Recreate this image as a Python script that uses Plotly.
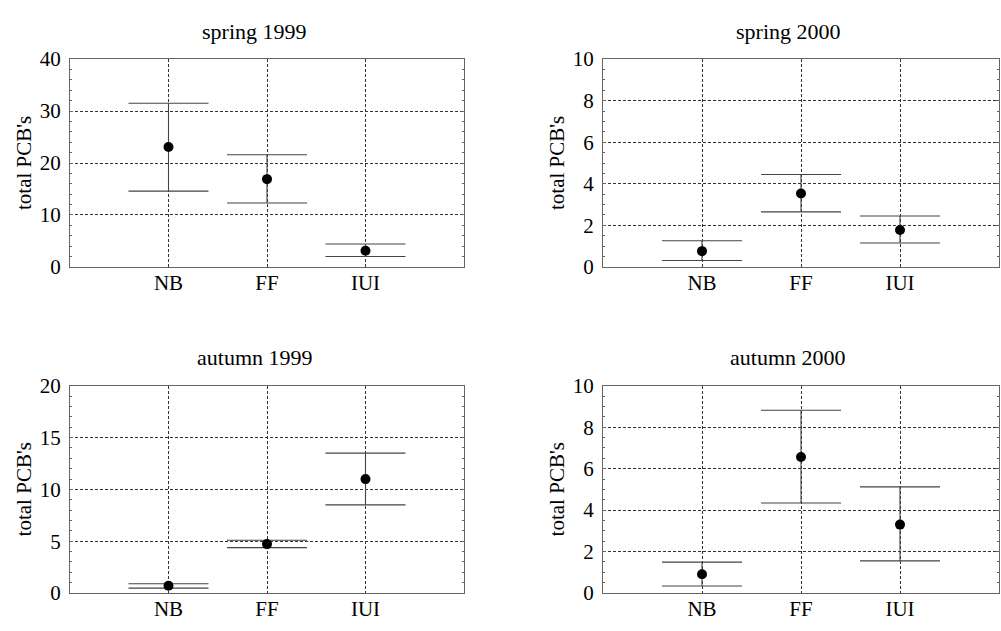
import plotly.graph_objects as go

categories = ["NB", "FF", "IUI"]
panel_titles = ["spring 1999", "spring 2000", "autumn 1999", "autumn 2000"]
y_max = [40, 10, 20, 10]
y_dtick = [10, 2, 5, 2]
y_minor = [2, 0.5, 1, 0.5]

spring1999_mean = [23.1, 16.9, 3.1]
spring1999_upper = [31.5, 21.6, 4.4]
spring1999_lower = [14.6, 12.3, 2.0]

spring2000_mean = [0.76, 3.53, 1.78]
spring2000_upper = [1.26, 4.45, 2.45]
spring2000_lower = [0.31, 2.65, 1.15]

autumn1999_mean = [0.71, 4.72, 10.99]
autumn1999_upper = [0.90, 5.09, 13.5]
autumn1999_lower = [0.47, 4.38, 8.5]

autumn2000_mean = [0.91, 6.56, 3.30]
autumn2000_upper = [1.49, 8.82, 5.12]
autumn2000_lower = [0.34, 4.34, 1.55]

means = [spring1999_mean, spring2000_mean, autumn1999_mean, autumn2000_mean]
uppers = [spring1999_upper, spring2000_upper, autumn1999_upper, autumn2000_upper]
lowers = [spring1999_lower, spring2000_lower, autumn1999_lower, autumn2000_lower]

W, H = 1001, 631
FONT = "Liberation Serif, Times New Roman, serif"

# pixel boxes (left, right, top, bottom)
boxes = [(70, 464, 49, 265), (603, 999, 49, 265), (70, 464, 388.5, 604), (603, 999, 388.5, 604)]
title_pos = [(254, 20), (788, 20), (255, 359), (788, 359)]
ytitle_x = [24, 557]

fig = go.Figure()
annotations = []
xpos = [1, 2, 3]
for i in range(4):
    xa = "x" if i == 0 else f"x{i+1}"
    ya = "y" if i == 0 else f"y{i+1}"
    m, u, lo = means[i], uppers[i], lowers[i]
    fig.add_trace(go.Scatter(
        x=xpos, y=m, mode="markers", xaxis=xa, yaxis=ya,
        marker=dict(color="black", size=10),
        error_y=dict(type="data", symmetric=False,
                     array=[a - b for a, b in zip(u, m)],
                     arrayminus=[b - c for b, c in zip(m, lo)],
                     color="#444", thickness=1.1, width=40),
        showlegend=False, hoverinfo="skip"))
    l, r, t, b = boxes[i]
    axsfx = "" if i == 0 else str(i + 1)
    common_line = dict(showline=True, linecolor="#666", linewidth=1.2, mirror="allticks")
    fig.layout["xaxis" + axsfx] = dict(
        domain=[l / W, r / W], anchor=ya, range=[0, 4],
        tickvals=xpos, ticktext=categories, ticks="", ticklabelstandoff=-3,
        showgrid=True, gridcolor="#333", gridwidth=1, griddash="3px,2px",
        zeroline=False, tickfont=dict(family=FONT, size=21, color="black"),
        **common_line)
    fig.layout["yaxis" + axsfx] = dict(
        domain=[1 - b / H, 1 - t / H], anchor=xa, range=[0, y_max[i]],
        dtick=y_dtick[i], tick0=0, ticks="inside", ticklen=3, tickcolor="#666",
        ticklabelstandoff=4,
        minor=dict(dtick=y_minor[i], ticks="inside", ticklen=2, tickcolor="#666", showgrid=False),
        showgrid=True, gridcolor="#333", gridwidth=1, griddash="3px,2px",
        zeroline=False, tickfont=dict(family=FONT, size=21, color="black"),
        **common_line)
    tx, ty = title_pos[i]
    annotations.append(dict(text=panel_titles[i], x=tx / W, y=1 - ty / H, xref="paper", yref="paper",
                            xanchor="center", yanchor="middle", showarrow=False,
                            font=dict(family=FONT, size=22, color="black")))
    annotations.append(dict(text="total PCB's", x=ytitle_x[i % 2] / W, y=1 - ((t + b) / 2) / H,
                            xref="paper", yref="paper", xanchor="center", yanchor="middle",
                            textangle=-90, showarrow=False,
                            font=dict(family=FONT, size=21, color="black")))

fig.update_layout(width=W, height=H, margin=dict(l=0, r=0, t=0, b=0),
                  paper_bgcolor="white", plot_bgcolor="white", annotations=annotations)
fig.write_html("out.html")
